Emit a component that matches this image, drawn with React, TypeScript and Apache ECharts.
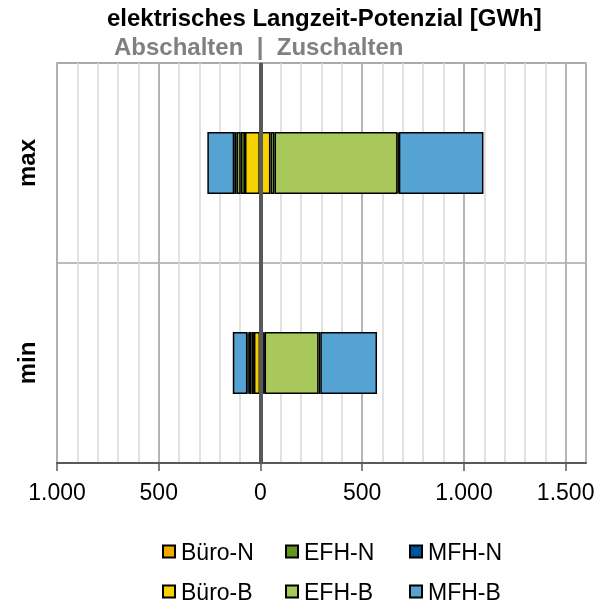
import React, { useEffect, useRef } from "react";
import * as echarts from "echarts";

// Categories (bottom to top)
const categories = ["min", "max"];

// Abschalten (negative side), per category [min, max]
const abBueroN = [-2, -3];
const abBueroB = [-30, -73];
const abEfhN = [-12, -21];
const abEfhB = [-14, -20];
const abMfhN = [-6, -12];
const abMfhB = [-72, -132];

// Zuschalten (positive side), per category [min, max]
const zuBueroN = [2, 2];
const zuBueroB = [14, 47];
const zuEfhN = [4, 20];
const zuEfhB = [266, 605];
const zuMfhN = [8, 6];
const zuMfhB = [279, 416];

const seriesNames = ["Büro-N", "Büro-B", "EFH-N", "EFH-B", "MFH-N", "MFH-B"];
const abData = [abBueroN, abBueroB, abEfhN, abEfhB, abMfhN, abMfhB];
const zuData = [zuBueroN, zuBueroB, zuEfhN, zuEfhB, zuMfhN, zuMfhB];

// Legend layout: rows of names
const legendRows = [
  ["Büro-N", "EFH-N", "MFH-N"],
  ["Büro-B", "EFH-B", "MFH-B"],
];

const colors: Record<string, string> = {
  "Büro-N": "#F2A900",
  "Büro-B": "#F6D200",
  "EFH-N": "#62961F",
  "EFH-B": "#A8C85B",
  "MFH-N": "#00539B",
  "MFH-B": "#54A3D2",
};

const axisMin = -1000;
const axisMax = 1600;
const majorStep = 500;
const minorStep = 100;

const FONT = "'Liberation Sans', Arial, sans-serif";

function fmt(v: number): string {
  const a = Math.abs(Math.round(v));
  return String(a).replace(/\B(?=(\d{3})+(?!\d))/g, ".");
}

export default function App() {
  const ref = useRef<HTMLDivElement>(null);

  useEffect(() => {
    if (!ref.current) return;
    const chart = echarts.init(ref.current, null, { renderer: "svg" });

    const series: any[] = [];
    seriesNames.forEach((name, i) => {
      [abData[i], zuData[i]].forEach((data, j) => {
        const s: any = {
          name,
          type: "bar",
          stack: "total",
          xAxisIndex: 0,
          yAxisIndex: 0,
          data,
          barWidth: 62,
          itemStyle: {
            color: colors[name],
            borderColor: "#000",
            borderWidth: 1.5,
          },
          emphasis: { disabled: true },
        };
        if (i === 0 && j === 0) {
          s.markLine = {
            silent: true,
            symbol: "none",
            label: { show: false },
            lineStyle: { color: "#595959", width: 4, type: "solid" },
            data: [{ xAxis: 0 }],
            z: 10,
          };
        }
        series.push(s);
      });
    });

    const colLefts = [162, 285, 409];
    const rowTops = [540, 580];
    const legends: any[] = [];
    legendRows.forEach((row, r) => {
      row.forEach((name, c) => {
        legends.push({
          orient: "horizontal",
          left: colLefts[c],
          top: rowTops[r],
          padding: 0,
          itemWidth: 12,
          itemHeight: 12,
          icon: "rect",
          selectedMode: false,
          data: [name],
          textStyle: { fontSize: 23, color: "#000", fontFamily: FONT, padding: [0, 0, 0, 1] },
        });
      });
    });

    chart.setOption({
      animation: false,
      textStyle: { fontFamily: FONT },
      title: [
        {
          text: "elektrisches Langzeit-Potenzial [GWh]",
          left: 107,
          top: 5,
          padding: 0,
          textStyle: { fontSize: 24, fontWeight: "bold", color: "#000", fontFamily: FONT },
        },
        {
          text: "Abschalten  |  Zuschalten",
          left: 114,
          top: 34,
          padding: 0,
          textStyle: { fontSize: 24, fontWeight: "bold", color: "#808080", fontFamily: FONT },
        },
      ],
      legend: legends,
      grid: {
        left: 57,
        right: 25,
        top: 63,
        bottom: 146,
        show: true,
        borderColor: "#a6a6a6",
        borderWidth: 1.5,
      },
      xAxis: [
        {
          type: "value",
          min: axisMin,
          max: axisMax,
          interval: majorStep,
          z: 2,
          axisLine: { show: true, lineStyle: { color: "#595959", width: 2 } },
          axisTick: { show: true, length: 8, lineStyle: { color: "#595959", width: 1.5 } },
          axisLabel: {
            fontSize: 23,
            color: "#000",
            fontFamily: FONT,
            margin: 17,
            showMaxLabel: false,
            formatter: (v: number) => (Math.round(v) % majorStep === 0 ? fmt(v) : ""),
          },
          splitLine: { show: true, lineStyle: { color: "#a6a6a6", width: 1.5 } },
        },
        {
          type: "value",
          min: axisMin,
          max: axisMax,
          interval: minorStep,
          position: "bottom",
          z: 0,
          axisLine: { show: false },
          axisTick: { show: false },
          axisLabel: { show: false },
          splitLine: { show: true, lineStyle: { color: "#d9d9d9", width: 1.5 } },
        },
      ],
      yAxis: {
        type: "category",
        data: categories,
        axisLine: { show: true, lineStyle: { color: "#808080", width: 2 } },
        axisTick: { show: false },
        axisLabel: {
          rotate: 90,
          fontSize: 24,
          fontWeight: "bold",
          color: "#000",
          fontFamily: FONT,
          margin: 19,
        },
        splitLine: { show: true, lineStyle: { color: "#a6a6a6", width: 1.5 } },
      },
      series,
    });

    return () => chart.dispose();
  }, []);

  return (
    <div
      ref={ref}
      style={{ position: "fixed", left: 0, top: 0, width: 611, height: 609 }}
    />
  );
}
